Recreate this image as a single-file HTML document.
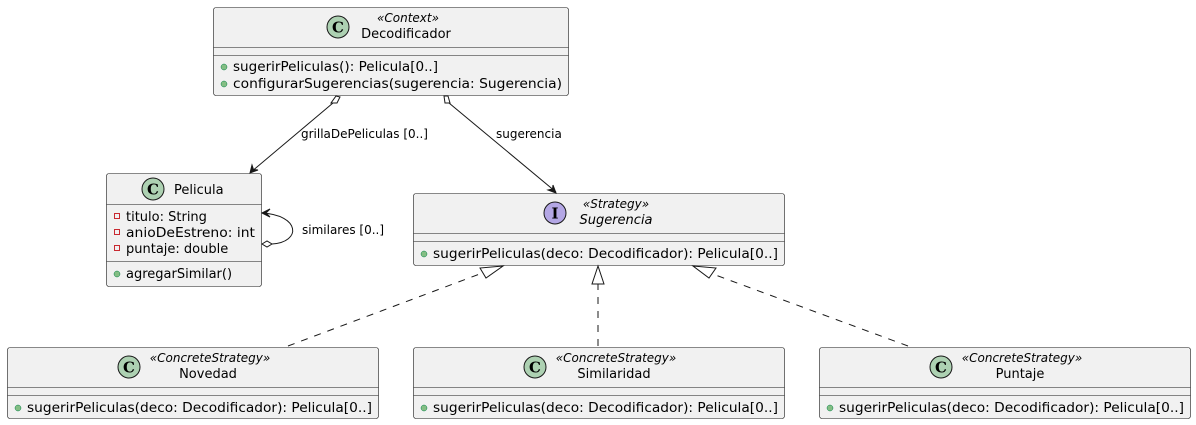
<!DOCTYPE html>
<html><head><meta charset="utf-8"><style>
html,body{margin:0;padding:0;background:#fff;}
svg{display:block;}
text{font-family:"DejaVu Sans","Liberation Sans",sans-serif;fill:#000;}
.m{font-size:13px;}
.st{font-size:12px;font-style:italic;}
.lb{font-size:12px;}
.box{fill:#f1f1f1;stroke:#181818;stroke-width:0.6;}
.sep{stroke:#181818;stroke-width:0.6;}
.ln{stroke:#181818;stroke-width:1;fill:none;}
.dash{stroke:#181818;stroke-width:1;fill:none;stroke-dasharray:7,7;}
.ic{font-family:"DejaVu Serif","Liberation Serif",serif;font-size:15px;font-weight:bold;}
</style></head><body>
<svg width="1196" height="425" viewBox="0 0 1196 425" xmlns="http://www.w3.org/2000/svg">
<!-- Decodificador -->
<rect class="box" x="213.5" y="7.5" width="355" height="88" rx="2.5"/>
<line class="sep" x1="213.5" y1="47.5" x2="568.5" y2="47.5"/>
<line class="sep" x1="213.5" y1="55.5" x2="568.5" y2="55.5"/>
<circle cx="338" cy="27" r="11" fill="#ADD1B2" stroke="#181818" stroke-width="1"/>
<text class="ic" x="338" y="32.5" text-anchor="middle">C</text>
<text class="st" x="408" y="22" text-anchor="middle">«Context»</text>
<text class="m" x="406" y="38" text-anchor="middle">Decodificador</text>
<circle cx="224" cy="67" r="3" fill="#84BE84" stroke="#038048" stroke-width="0.5"/>
<text class="m" x="233" y="71" textLength="205" lengthAdjust="spacingAndGlyphs">sugerirPeliculas(): Pelicula[0..]</text>
<circle cx="224" cy="84" r="3" fill="#84BE84" stroke="#038048" stroke-width="0.5"/>
<text class="m" x="233" y="88" textLength="329" lengthAdjust="spacingAndGlyphs">configurarSugerencias(sugerencia: Sugerencia)</text>

<!-- Pelicula -->
<rect class="box" x="106.5" y="173.5" width="155" height="113" rx="2.5"/>
<line class="sep" x1="106.5" y1="204.5" x2="261.5" y2="204.5"/>
<line class="sep" x1="106.5" y1="261.5" x2="261.5" y2="261.5"/>
<circle cx="153" cy="189" r="11" fill="#ADD1B2" stroke="#181818" stroke-width="1"/>
<text class="ic" x="153" y="194.5" text-anchor="middle">C</text>
<text class="m" x="174" y="194">Pelicula</text>
<rect x="114.5" y="213.5" width="5" height="5" fill="none" stroke="#C82930"/>
<text class="m" x="126" y="221">titulo: String</text>
<rect x="114.5" y="229.5" width="5" height="5" fill="none" stroke="#C82930"/>
<text class="m" x="126" y="237" textLength="129" lengthAdjust="spacingAndGlyphs">anioDeEstreno: int</text>
<rect x="114.5" y="245.5" width="5" height="5" fill="none" stroke="#C82930"/>
<text class="m" x="126" y="253">puntaje: double</text>
<circle cx="117" cy="274" r="3" fill="#84BE84" stroke="#038048" stroke-width="0.5"/>
<text class="m" x="126" y="278">agregarSimilar()</text>

<!-- Sugerencia -->
<rect class="box" x="413.5" y="193.5" width="371" height="72" rx="2.5"/>
<line class="sep" x1="413.5" y1="233.5" x2="784.5" y2="233.5"/>
<line class="sep" x1="413.5" y1="241.5" x2="784.5" y2="241.5"/>
<circle cx="555" cy="213" r="11" fill="#B4A7E5" stroke="#181818" stroke-width="1"/>
<text class="ic" x="555" y="218.5" text-anchor="middle">I</text>
<text class="st" x="616" y="208" text-anchor="middle">«Strategy»</text>
<text class="m" x="616" y="224" text-anchor="middle" style="font-style:italic">Sugerencia</text>
<circle cx="424" cy="254" r="3" fill="#84BE84" stroke="#038048" stroke-width="0.5"/>
<text class="m" x="433" y="258" textLength="345" lengthAdjust="spacingAndGlyphs">sugerirPeliculas(deco: Decodificador): Pelicula[0..]</text>

<!-- Concrete strategies -->
<g>
<rect class="box" x="7.5" y="347.5" width="371" height="71" rx="2.5"/>
<line class="sep" x1="7.5" y1="387.5" x2="378.5" y2="387.5"/>
<line class="sep" x1="7.5" y1="395.5" x2="378.5" y2="395.5"/>
<circle cx="129" cy="367" r="11" fill="#ADD1B2" stroke="#181818" stroke-width="1"/>
<text class="ic" x="129" y="372.5" text-anchor="middle">C</text>
<text class="st" x="210" y="362" text-anchor="middle">«ConcreteStrategy»</text>
<text class="m" x="208" y="378" text-anchor="middle">Novedad</text>
<circle cx="18" cy="408" r="3" fill="#84BE84" stroke="#038048" stroke-width="0.5"/>
<text class="m" x="27" y="412" textLength="345" lengthAdjust="spacingAndGlyphs">sugerirPeliculas(deco: Decodificador): Pelicula[0..]</text>
</g>
<g>
<rect class="box" x="413.5" y="347.5" width="371" height="71" rx="2.5"/>
<line class="sep" x1="413.5" y1="387.5" x2="784.5" y2="387.5"/>
<line class="sep" x1="413.5" y1="395.5" x2="784.5" y2="395.5"/>
<circle cx="535" cy="367" r="11" fill="#ADD1B2" stroke="#181818" stroke-width="1"/>
<text class="ic" x="535" y="372.5" text-anchor="middle">C</text>
<text class="st" x="616" y="362" text-anchor="middle">«ConcreteStrategy»</text>
<text class="m" x="614" y="378" text-anchor="middle">Similaridad</text>
<circle cx="424" cy="408" r="3" fill="#84BE84" stroke="#038048" stroke-width="0.5"/>
<text class="m" x="433" y="412" textLength="345" lengthAdjust="spacingAndGlyphs">sugerirPeliculas(deco: Decodificador): Pelicula[0..]</text>
</g>
<g>
<rect class="box" x="819.5" y="347.5" width="371" height="71" rx="2.5"/>
<line class="sep" x1="819.5" y1="387.5" x2="1190.5" y2="387.5"/>
<line class="sep" x1="819.5" y1="395.5" x2="1190.5" y2="395.5"/>
<circle cx="941" cy="367" r="11" fill="#ADD1B2" stroke="#181818" stroke-width="1"/>
<text class="ic" x="941" y="372.5" text-anchor="middle">C</text>
<text class="st" x="1022" y="362" text-anchor="middle">«ConcreteStrategy»</text>
<text class="m" x="1020" y="378" text-anchor="middle">Puntaje</text>
<circle cx="830" cy="408" r="3" fill="#84BE84" stroke="#038048" stroke-width="0.5"/>
<text class="m" x="839" y="412" textLength="345" lengthAdjust="spacingAndGlyphs">sugerirPeliculas(deco: Decodificador): Pelicula[0..]</text>
</g>

<!-- Aggregation: Decodificador -> Pelicula -->
<line class="ln" x1="333" y1="103" x2="251" y2="172"/>
<polygon points="336,96 340,97 337,103 331,103" fill="#fff" stroke="#181818"/>
<polygon points="250,173 252,165 253.5,169.5 258,170" fill="#181818" stroke="#181818"/>
<text class="lb" x="301" y="138">grillaDePeliculas [0..]</text>

<!-- Aggregation: Decodificador -> Sugerencia -->
<line class="ln" x1="449" y1="103" x2="556" y2="192"/>
<polygon points="444,96 448,96 450,103 445,103" fill="#fff" stroke="#181818"/>
<polygon points="556,193 548,190 552.5,189 553,185" fill="#181818" stroke="#181818"/>
<text class="lb" x="496" y="138">sugerencia</text>

<!-- Self loop -->
<path class="ln" d="M262,213 C 300,215 302,242 272,244"/>
<polygon points="262,213 270,209 266,213 270,217" fill="#181818" stroke="#181818"/>
<polygon points="262,244 267,241 272,244 267,247" fill="#fff" stroke="#181818"/>
<text class="lb" x="302" y="234">similares [0..]</text>

<!-- Realizations -->
<line class="dash" x1="288" y1="346" x2="485" y2="272"/>
<polygon points="503,266 480,268 486,278" fill="#fff" stroke="#181818"/>
<line class="dash" x1="598" y1="346" x2="598" y2="284"/>
<polygon points="598,266 592,284 604,284" fill="#fff" stroke="#181818"/>
<line class="dash" x1="908" y1="346" x2="710" y2="273"/>
<polygon points="693,266 716,268 709,278" fill="#fff" stroke="#181818"/>
</svg>
</body></html>
